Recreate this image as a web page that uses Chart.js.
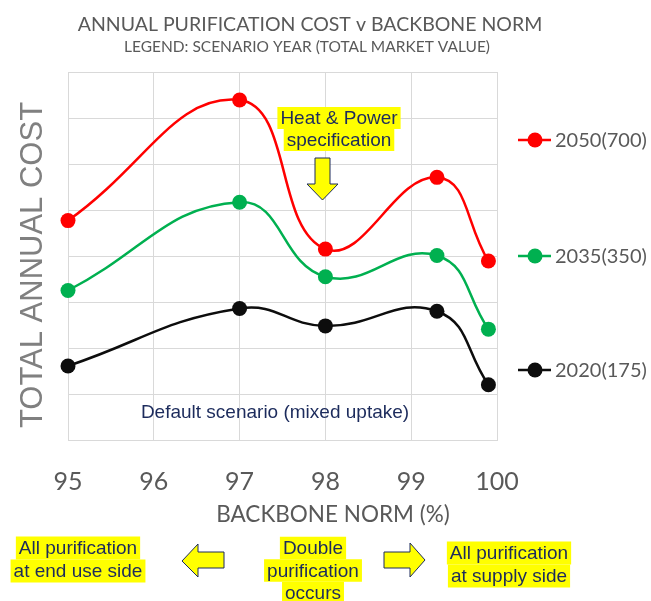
<!DOCTYPE html>
<html>
<head>
<meta charset="utf-8">
<script src="https://cdn.jsdelivr.net/npm/chart.js@4"></script>
<style>
 body { margin: 0; background: #fff; }
 #wrap { width: 651px; height: 601px; }
</style>
</head>
<body>
<div id="wrap"><canvas id="myChart" width="651" height="601"></canvas></div>
<script>
// backbone norm (%) of each point
var norms = [95, 97, 98, 99.3, 99.9];
// annual cost, unitless (y axis has no labels)
var cost2050 = [4.77, 7.39, 4.15, 5.71, 3.89];
var cost2035 = [3.25, 5.17, 3.55, 4.01, 2.41];
var cost2020 = [1.61, 2.86, 2.48, 2.80, 1.20];
var seriesNames = ['2050(700)', '2035(350)', '2020(175)'];
var seriesColors = ['#ff0000', '#00b050', '#0d0d0d'];
var xTicks = [95, 96, 97, 98, 99, 100];

var GRAY = '#595959';
var NAVY = '#1c2b5c';
var SANS = '"Liberation Sans", Arial, sans-serif';
var LABEL = 'Lato, "Open Sans", sans-serif';

function points(vals) {
    return vals.map(function (v, i) { return { x: norms[i], y: v }; });
}

function makeSet(i, vals) {
    return {
        label: seriesNames[i],
        data: points(vals),
        borderColor: seriesColors[i],
        backgroundColor: seriesColors[i],
        borderWidth: 2.5,
        pointRadius: 7.5,
        pointHoverRadius: 7.5,
        pointBorderWidth: 0,
        tension: 0.45,
        fill: false,
        clip: false
    };
}

// yellow highlighted text block, centred on cx
function hiText(ctx, lines, cx, y0, lh) {
    ctx.font = '19px ' + SANS;
    ctx.fillStyle = '#ffff00';
    lines.forEach(function (t, i) {
        var w = ctx.measureText(t).width;
        ctx.fillRect(cx - w / 2 - 3, y0 + i * lh - lh / 2, w + 6, lh);
    });
    ctx.fillStyle = NAVY;
    ctx.textAlign = 'center';
    ctx.textBaseline = 'middle';
    lines.forEach(function (t, i) {
        ctx.fillText(t, cx, y0 + i * lh + 1);
    });
}

function arrow(ctx, pts) {
    ctx.beginPath();
    ctx.moveTo(pts[0][0], pts[0][1]);
    for (var i = 1; i < pts.length; i++) ctx.lineTo(pts[i][0], pts[i][1]);
    ctx.closePath();
    ctx.fillStyle = '#ffff00';
    ctx.fill();
    ctx.strokeStyle = NAVY;
    ctx.lineWidth = 1;
    ctx.stroke();
}

var textPlugin = {
    id: 'textPlugin',
    afterDatasetsDraw: function (chart) {
        var ctx = chart.ctx;
        ctx.save();

        // titles
        ctx.fillStyle = GRAY;
        ctx.textAlign = 'center';
        ctx.textBaseline = 'middle';
        ctx.font = '19.5px ' + LABEL;
        ctx.fillText('ANNUAL PURIFICATION COST v BACKBONE NORM', 310, 25);
        ctx.font = '15.5px ' + LABEL;
        ctx.fillText('LEGEND: SCENARIO YEAR (TOTAL MARKET VALUE)', 307, 47);

        // axis titles
        ctx.font = '22.5px ' + LABEL;
        ctx.fillText('BACKBONE NORM (%)', 333, 515);
        ctx.save();
        ctx.translate(33, 265);
        ctx.rotate(-Math.PI / 2);
        ctx.fillStyle = '#808080';
        ctx.font = '31px ' + SANS;
        ctx.fillText('TOTAL ANNUAL COST', 0, 0);
        ctx.restore();

        // legend beside the line ends
        var legendY = [140, 256, 370];
        seriesNames.forEach(function (name, i) {
            var y = legendY[i];
            ctx.strokeStyle = seriesColors[i];
            ctx.lineWidth = 2.5;
            ctx.beginPath();
            ctx.moveTo(518, y);
            ctx.lineTo(551, y);
            ctx.stroke();
            ctx.fillStyle = seriesColors[i];
            ctx.beginPath();
            ctx.arc(535, y, 7.5, 0, Math.PI * 2);
            ctx.fill();
            ctx.fillStyle = GRAY;
            ctx.textAlign = 'left';
            ctx.font = '20px ' + LABEL;
            ctx.fillText(name, 555, y + 1);
        });

        // notes inside the plot
        ctx.textAlign = 'center';
        ctx.fillStyle = NAVY;
        ctx.font = '19px ' + SANS;
        ctx.fillText('Default scenario (mixed uptake)', 275, 413);
        hiText(ctx, ['Heat & Power', 'specification'], 339, 118, 22);
        arrow(ctx, [[315, 158], [330, 158], [330, 184], [338, 184], [322.5, 200], [307, 184], [315, 184]]);

        // notes under the axis
        hiText(ctx, ['All purification', 'at end use side'], 78, 548, 23);
        hiText(ctx, ['Double', 'purification', 'occurs'], 313, 548, 22.5);
        hiText(ctx, ['All purification', 'at supply side'], 509, 553, 23);
        arrow(ctx, [[182, 561], [198, 544], [198, 552], [224, 552], [224, 568], [198, 568], [198, 577]]);
        arrow(ctx, [[425, 560], [410, 543], [410, 552], [384, 552], [384, 568], [410, 568], [410, 577]]);

        ctx.restore();
    }
};

var ctx = document.getElementById('myChart').getContext('2d');
var myChart = new Chart(ctx, {
    type: 'line',
    data: {
        datasets: [makeSet(0, cost2050), makeSet(1, cost2035), makeSet(2, cost2020)]
    },
    options: {
        responsive: false,
        animation: false,
        layout: { padding: { top: 72, right: 154, left: 0, bottom: 0 } },
        plugins: {
            legend: { display: false },
            title: { display: false },
            tooltip: { enabled: false }
        },
        scales: {
            x: {
                type: 'linear',
                min: 95,
                max: 100,
                afterBuildTicks: function (s) {
                    s.ticks = xTicks.map(function (v) { return { value: v }; });
                },
                afterFit: function (s) { s.height = 161; },
                grid: { color: '#d9d9d9', drawTicks: false },
                border: { color: '#d9d9d9' },
                ticks: {
                    color: GRAY,
                    padding: 27,
                    maxRotation: 0,
                    font: { family: 'Lato', size: 25 }
                }
            },
            y: {
                min: 0,
                max: 8,
                afterFit: function (s) { s.width = 68; },
                grid: { color: '#d9d9d9', drawTicks: false },
                border: { color: '#d9d9d9' },
                ticks: { display: false, stepSize: 1 }
            }
        }
    },
    plugins: [textPlugin]
});
</script>
</body>
</html>
